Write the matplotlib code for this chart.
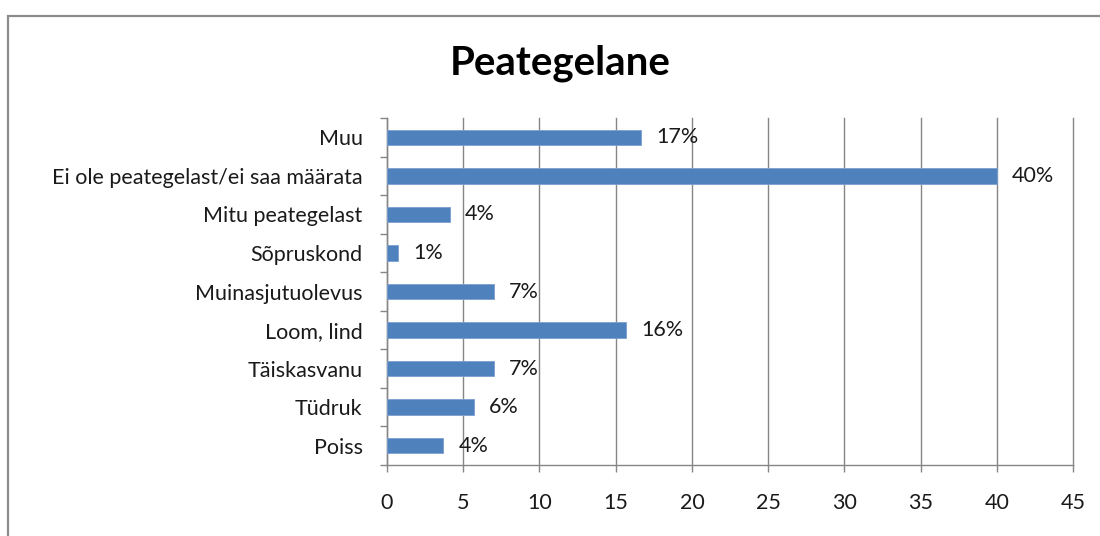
import matplotlib.pyplot as plt
import numpy as np
from matplotlib.patches import Rectangle

# categories from bottom to top, as drawn
categories = ['Poiss', 'Tüdruk', 'Täiskasvanu', 'Loom, lind', 'Muinasjutuolevus',
              'Sõpruskond', 'Mitu peategelast', 'Ei ole peategelast/ei saa määrata', 'Muu']
values = [3.7, 5.7, 7.0, 15.65, 7.0, 0.75, 4.1, 40.0, 16.65]
labels = ['4%', '6%', '7%', '16%', '7%', '1%', '4%', '40%', '17%']
xticks = [0, 5, 10, 15, 20, 25, 30, 35, 40, 45]

plt.rcParams['font.family'] = ['Lato', 'DejaVu Sans']

bar_color = '#4F81BD'
grid_color = '#868686'
text_color = '#1a1a1a'
fs = 15.5

fig = plt.figure(figsize=(11, 5.36), dpi=100)
ax = fig.add_axes([387 / 1100, 71 / 536, 686 / 1100, 347 / 536])

# outer chart border (cut off at right and bottom like the screenshot)
fig.patches.append(Rectangle((8 / 1100, -0.1), 1.2, 0.97 + 0.1, transform=fig.transFigure,
                             fill=False, edgecolor='#8c8c8c', linewidth=1.6))

ypos = np.arange(len(categories))
ax.barh(ypos, values, height=0.4, color=bar_color, edgecolor='#7a9fd0', linewidth=0.6, zorder=3)

for y, v, lab in zip(ypos, values, labels):
    ax.annotate(lab, (v, y), xytext=(11, 0), textcoords='offset points',
                ha='left', va='center', fontsize=fs, color=text_color)

ax.set_xlim(0, 45)
ax.set_ylim(-0.5, len(categories) - 0.5)
ax.set_xticks(xticks)
ax.set_xticklabels([str(t) for t in xticks])
ax.set_yticks(ypos)
ax.set_yticklabels(categories)
ax.set_yticks(np.arange(-0.5, len(categories)), minor=True)

ax.grid(axis='x', color=grid_color, linewidth=1.0, zorder=0)
for gl in ax.get_xgridlines():
    gl.set_clip_on(False)
ax.tick_params(axis='x', direction='out', length=5, width=1, color=grid_color,
               labelsize=fs, pad=15, labelcolor=text_color)
ax.tick_params(axis='y', which='major', length=0, labelsize=fs, pad=17.5, labelcolor=text_color)
ax.tick_params(axis='y', which='minor', direction='out', length=5, width=1, color=grid_color)

for side in ['top', 'right']:
    ax.spines[side].set_visible(False)
for side in ['left', 'bottom']:
    ax.spines[side].set_color(grid_color)
    ax.spines[side].set_linewidth(1.0)

fig.text(560 / 1100, 1 - 63 / 536, 'Peategelane', ha='center', va='center',
         fontsize=29, fontweight='bold', color='black')

fig.savefig('out.png', dpi=100)
